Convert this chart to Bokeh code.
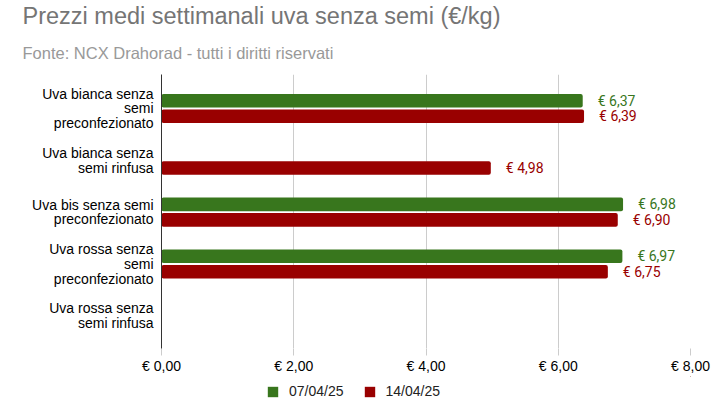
from bokeh.plotting import figure
from bokeh.models import (ColumnDataSource, Range1d, FixedTicker, Legend,
                          LegendItem, Title)
from bokeh.layouts import column
from bokeh.transform import dodge
from bokeh.core.properties import value
from bokeh.embed import file_html
from bokeh.resources import INLINE

# ---------------- data ----------------
categories = [
    "Uva bianca senza\nsemi\npreconfezionato",
    "Uva bianca senza\nsemi rinfusa",
    "Uva bis senza semi\npreconfezionato",
    "Uva rossa senza\nsemi\npreconfezionato",
    "Uva rossa senza\nsemi rinfusa",
]
series_names = ["07/04/25", "14/04/25"]
prezzi_0704 = [6.37, None, 6.98, 6.97, None]
prezzi_1404 = [6.39, 4.98, 6.90, 6.75, None]
x_ticks = [0, 2, 4, 6, 8]
x_tick_labels = ["€ 0,00", "€ 2,00", "€ 4,00", "€ 6,00", "€ 8,00"]
title_text = "Prezzi medi settimanali uva senza semi (€/kg)"
subtitle_text = "Fonte: NCX Drahorad - tutti i diritti riservati"

colors = ["#38761d", "#990000"]
offsets = [-0.15, 0.15]
bar_h = 0.262

X0, X1 = 0, 8
Y_BOTTOM, Y_TOP = 4.632, -0.656


def fmt(v):
    return "€ " + f"{v:.2f}".replace(".", ",")


def make_source(vals):
    pos, vv, lab = [], [], []
    for i, v in enumerate(vals):
        if v is None:
            continue
        pos.append(i)
        vv.append(v)
        lab.append(fmt(v))
    return ColumnDataSource(dict(pos=pos, val=vv, label=lab))


W, H = 712, 376
LEG_H = 25
FL, FR, FT, FB = 161, 690, 68, 350

p = figure(width=W, height=H,
           x_range=Range1d(X0, X1), y_range=Range1d(Y_BOTTOM, Y_TOP),
           output_backend="svg", toolbar_location=None, title=None,
           min_border_left=FL, min_border_right=W - FR,
           min_border_top=FT, min_border_bottom=H - FB)
p.outline_line_color = None
p.background_fill_color = "white"
p.border_fill_color = None

sources = []
for vals, col, off in zip([prezzi_0704, prezzi_1404], colors, offsets):
    src = make_source(vals)
    sources.append(src)
    p.hbar(y=dodge("pos", off), left=0, right="val", height=bar_h,
           source=src, fill_color=col, line_color=None, border_radius=2)
    p.text(x="val", y=dodge("pos", off), text="label", source=src,
           x_offset=15, text_baseline="middle", text_align="left",
           text_font=value("Roboto"), text_font_size="14px",
           text_color=col)

# x axis
xa = p.xaxis[0]
xa.ticker = FixedTicker(ticks=x_ticks)
xa.major_label_overrides = {t: l for t, l in zip(x_ticks, x_tick_labels)}
xa.axis_line_color = None
xa.major_tick_out = 7
xa.major_tick_in = 0
xa.major_tick_line_color = "#cccccc"
xa.minor_tick_line_color = None
xa.major_label_standoff = 2
xa.major_label_text_font = "Liberation Sans"
xa.major_label_text_font_size = "14px"
xa.major_label_text_color = "#000000"

# y axis
ya = p.yaxis[0]
ya.ticker = FixedTicker(ticks=list(range(len(categories))))
ya.major_label_overrides = {i: c for i, c in enumerate(categories)}
ya.axis_line_color = "#333333"
ya.major_tick_line_color = None
ya.major_tick_in = 0
ya.major_tick_out = 0
ya.minor_tick_line_color = None
ya.major_label_standoff = 8
ya.major_label_text_font = "Liberation Sans"
ya.major_label_text_font_size = "14px"
ya.major_label_text_color = "#000000"
ya.major_label_text_line_height = 0.92

p.xgrid.ticker = FixedTicker(ticks=x_ticks)
p.xgrid.grid_line_color = "#cccccc"
p.ygrid.grid_line_color = None

# titles
p.add_layout(Title(text=subtitle_text, align="left", offset=22 - FL,
                   text_font="Liberation Sans", text_font_size="16.5px",
                   text_font_style="normal", text_color="#999999",
                   standoff=26), "above")
p.add_layout(Title(text=title_text, align="left", offset=22 - FL,
                   text_font="Liberation Sans", text_font_size="23.5px",
                   text_font_style="normal", text_color="#757575",
                   standoff=0), "above")

# legend strip below the chart (frames are aligned by the column layout)
pl = figure(width=W, height=LEG_H, x_range=Range1d(-2, -1),
            y_range=Range1d(-2, -1), x_axis_type=None, y_axis_type=None,
            output_backend="svg", toolbar_location=None, title=None,
            min_border_left=0, min_border_right=0,
            min_border_top=0, min_border_bottom=0)
pl.outline_line_color = None
pl.grid.visible = False
leg_renderers = [pl.hbar(y=dodge("pos", off), left=0, right="val",
                         height=bar_h, source=src, fill_color=c,
                         line_color=None)
                 for src, c, off in zip(sources, colors, offsets)]
legend = Legend(items=[LegendItem(label=n, renderers=[r])
                       for n, r in zip(series_names, leg_renderers)],
                location=(266 - FL, 2), orientation="horizontal",
                glyph_width=13, glyph_height=13, label_height=13,
                label_standoff=10, spacing=19, padding=0, margin=0,
                border_line_color=None, background_fill_alpha=0,
                label_text_font="Liberation Sans",
                label_text_font_size="14px", label_text_color="#222222")
pl.add_layout(legend)

layout = column(p, pl, spacing=0)
open("out.html", "w").write(file_html(layout, INLINE))
